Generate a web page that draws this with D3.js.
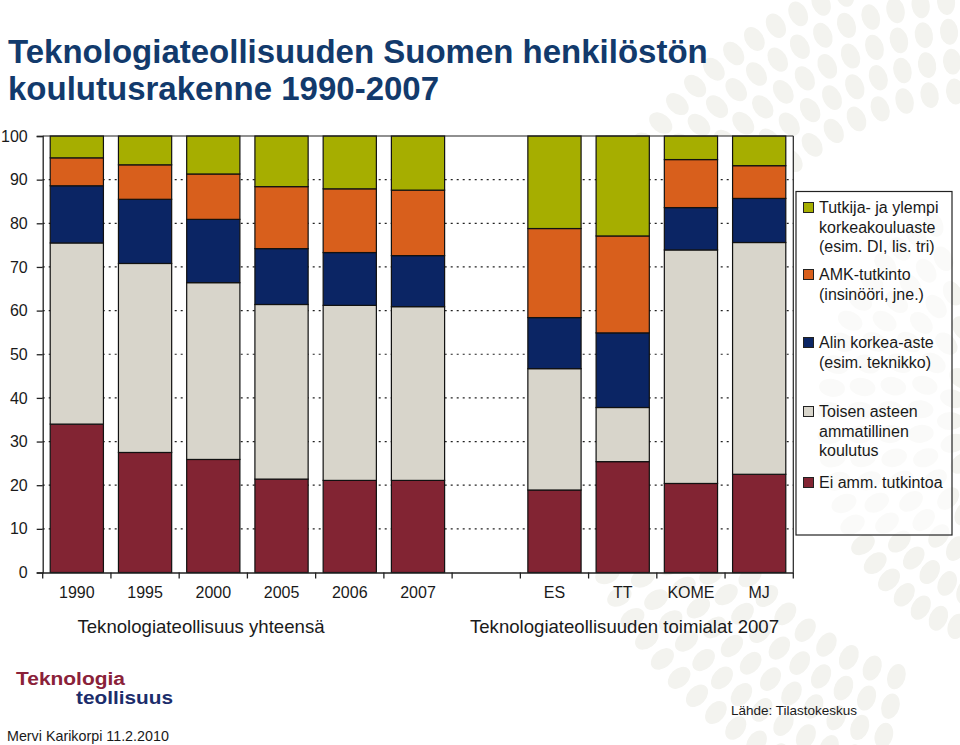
<!DOCTYPE html>
<html>
<head>
<meta charset="utf-8">
<script src="https://cdn.jsdelivr.net/npm/d3@7"></script>
<style>
html,body{margin:0;padding:0;background:#fff;}
svg{display:block;font-family:"Liberation Sans",Arial,Helvetica,sans-serif;}
</style>
</head>
<body>
<svg id="chart" width="960" height="745"></svg>
<script>
// ---- Data ----
const categories = ["1990","1995","2000","2005","2006","2007","","ES","TT","KOME","MJ"];
// series from bottom to top
const seriesNames = ["Ei amm. tutkintoa","Toisen asteen ammatillinen koulutus","Alin korkea-aste (esim. teknikko)","AMK-tutkinto (insinööri, jne.)","Tutkija- ja ylempi korkeakouluaste (esim. DI, lis. tri)"];
const eiAmm    = [34.0, 27.5, 25.9, 21.4, 21.1, 21.1, null, 18.9, 25.4, 20.4, 22.5];
const toisen   = [41.5, 43.3, 40.5, 40.0, 40.1, 39.8, null, 27.8, 12.4, 53.5, 53.1];
const alin     = [13.1, 14.7, 14.5, 12.8, 12.1, 11.7, null, 11.7, 17.1,  9.7, 10.1];
const amk      = [ 6.4,  7.9, 10.4, 14.2, 14.6, 15.0, null, 20.4, 22.2, 11.0,  7.5];
const tutkija  = [ 5.0,  6.6,  8.7, 11.6, 12.1, 12.4, null, 21.2, 22.9,  5.4,  6.8];
const seriesValues = [eiAmm, toisen, alin, amk, tutkija];
const seriesColors = ["#822433","#D8D5CB","#0B2564","#D85F1C","#A6AE00"];
const yTicks = [0,10,20,30,40,50,60,70,80,90,100];
const legendLines = [
  ["Tutkija- ja ylempi","korkeakouluaste","(esim. DI, lis. tri)"],
  ["AMK-tutkinto","(insinööri, jne.)"],
  ["Alin korkea-aste","(esim. teknikko)"],
  ["Toisen asteen","ammatillinen","koulutus"],
  ["Ei amm. tutkintoa"]
];
const legendOrder = [4,3,2,1,0];
const groupLabels = ["Teknologiateollisuus yhteensä", "Teknologiateollisuuden toimialat 2007"];

// ---- Drawing ----
const svg = d3.select("#chart");

// decorative background dots (top right)
const deco = svg.append("g").attr("fill","#f3f3ef");
const dcx = 985, dcy = 390;
for (let r = 300; r <= 440; r += 30) {
  const n = Math.round(r / 9);
  for (let k = 0; k < n; k++) {
    const a = -Math.PI/2 - 0.1 - k * (Math.PI*0.9) / n;
    const px = dcx + r*Math.cos(a), py = dcy + r*Math.sin(a);
    if (py < -15 || px < 600) continue;
    deco.append("ellipse").attr("cx",px).attr("cy",py).attr("rx",9).attr("ry",13)
      .attr("transform",`rotate(${(a*180/Math.PI)+90},${px},${py})`);
  }
}
for (let r = 60; r <= 200; r += 30) {
  const n = Math.round(r / 8);
  for (let k = 0; k < n; k++) {
    const a = Math.PI/2 + 0.3 + k*Math.PI*0.8/n;
    const px = 1010 + r*Math.cos(a), py = 420 + r*Math.sin(a)*1.2;
    if (px < 790) continue;
    deco.append("ellipse").attr("cx",px).attr("cy",py).attr("rx",9).attr("ry",13)
      .attr("transform",`rotate(${(a*180/Math.PI)+90},${px},${py})`);
  }
}

const x = d3.scaleBand().domain(categories).range([42.7, 793.3]).paddingInner(0.22).paddingOuter(0.11);
const y = d3.scaleLinear().domain([0,100]).range([572.5, 136]);
const step = x.step();
const bandStart = c => x(c) - step*x.paddingInner()/2;

// plot area
svg.append("rect").attr("x",x.range()[0]).attr("y",y(100)).attr("width",x.range()[1]-x.range()[0]).attr("height",y(0)-y(100)).attr("fill","#fff");

// gridlines
svg.append("g").selectAll("line").data(yTicks.filter(t=>t>0 && t<100)).join("line")
  .attr("x1",x.range()[0]).attr("x2",x.range()[1])
  .attr("y1",d=>y(d)).attr("y2",d=>y(d))
  .attr("stroke","#222").attr("stroke-width",1.2).attr("stroke-dasharray","2,4");

// stacked bars
const stackData = categories.map((c,i)=>{
  const o = {cat:c};
  seriesValues.forEach((s,j)=>{ o["s"+j] = s[i] == null ? 0 : s[i]; });
  return o;
});
const stack = d3.stack().keys(seriesValues.map((s,j)=>"s"+j));
const layers = stack(stackData);
svg.append("g").selectAll("g").data(layers).join("g")
  .attr("fill",(d,i)=>seriesColors[i])
  .selectAll("rect").data(d=>d.filter(p=>p.data.cat!=="")).join("rect")
  .attr("x",d=>x(d.data.cat)).attr("width",x.bandwidth())
  .attr("y",d=>y(d[1])).attr("height",d=>y(d[0])-y(d[1]))
  .attr("stroke","#111").attr("stroke-width",1.2);

// frame: top, right
svg.append("line").attr("x1",x.range()[0]).attr("x2",x.range()[1]).attr("y1",y(100)).attr("y2",y(100)).attr("stroke","#222").attr("stroke-width",1.2);
svg.append("line").attr("x1",x.range()[1]).attr("x2",x.range()[1]).attr("y1",y(100)).attr("y2",y(0)).attr("stroke","#222").attr("stroke-width",1.2);

// y axis
const yAxis = d3.axisLeft(y).tickValues(yTicks).tickSize(6).tickPadding(9).tickFormat(d3.format("d"));
const gy = svg.append("g").attr("transform",`translate(${x.range()[0]},0)`).call(yAxis);
gy.select(".domain").attr("stroke","#222").attr("stroke-width",1.3);
gy.selectAll(".tick line").attr("stroke","#222").attr("stroke-width",1.3);
gy.selectAll("text").attr("font-size",16).attr("fill","#1a1a1a").attr("font-family","Liberation Sans, Arial, sans-serif");

// x axis (labels centered in bands, ticks at boundaries)
const xAxis = d3.axisBottom(x).tickSize(0).tickPadding(14);
const gx = svg.append("g").attr("transform",`translate(0,${y(0)})`).call(xAxis);
gx.select(".domain").attr("stroke","#222").attr("stroke-width",1.3);
gx.selectAll("text").attr("font-size",16).attr("fill","#1a1a1a").attr("font-family","Liberation Sans, Arial, sans-serif");
const boundaries = categories.map(c=>bandStart(c)).concat([x.range()[1]]);
svg.append("g").selectAll("line").data(boundaries).join("line")
  .attr("x1",d=>d).attr("x2",d=>d).attr("y1",y(0)).attr("y2",y(0)+6)
  .attr("stroke","#222").attr("stroke-width",1.3);

// group labels
const groupCenters = [201, 624.5];
svg.append("g").selectAll("text").data(groupLabels).join("text")
  .attr("x",(d,i)=>groupCenters[i])
  .attr("y",633).attr("text-anchor","middle").attr("font-size",18.6).attr("fill","#1a1a1a")
  .text(d=>d);

// legend
svg.append("rect").attr("x",796).attr("y",191.5).attr("width",156).attr("height",343.5)
  .attr("fill","#fff").attr("fill-opacity",0.6).attr("stroke","#222").attr("stroke-width",1.2);
const legendTops = [213, 280, 348, 417, 488];
const lg = svg.append("g");
legendOrder.forEach((si,k)=>{
  const by = legendTops[k];
  lg.append("rect").attr("x",803.5).attr("y",by-10.5).attr("width",10).attr("height",10)
    .attr("fill",seriesColors[si]).attr("stroke","#222").attr("stroke-width",1);
  legendLines[k].forEach((ln,li)=>{
    lg.append("text").attr("x",819).attr("y",by+li*19.5).attr("font-size",16).attr("fill","#1a1a1a").text(ln);
  });
});

// title
svg.append("text").attr("x",8).attr("y",63).attr("font-size",33).attr("font-weight","bold").attr("fill","#123a6c")
  .text("Teknologiateollisuuden Suomen henkilöstön");
svg.append("text").attr("x",8).attr("y",100).attr("font-size",33).attr("font-weight","bold").attr("fill","#123a6c")
  .text("koulutusrakenne 1990-2007");

// logo & footer
svg.append("text").attr("x",16).attr("y",684.5).attr("font-size",17.5).attr("font-weight","bold").attr("fill","#8a2139")
  .attr("textLength",109).attr("lengthAdjust","spacingAndGlyphs").text("Teknologia");
svg.append("text").attr("x",76).attr("y",704).attr("font-size",17.5).attr("font-weight","bold").attr("fill","#1b2d6b")
  .attr("textLength",97).attr("lengthAdjust","spacingAndGlyphs").text("teollisuus");
svg.append("text").attr("x",731).attr("y",715).attr("font-size",13.5).attr("fill","#1a1a1a").text("Lähde: Tilastokeskus");
svg.append("text").attr("x",7).attr("y",741).attr("font-size",14.3).attr("fill","#1a1a1a").text("Mervi Karikorpi 11.2.2010");
</script>
</body>
</html>
